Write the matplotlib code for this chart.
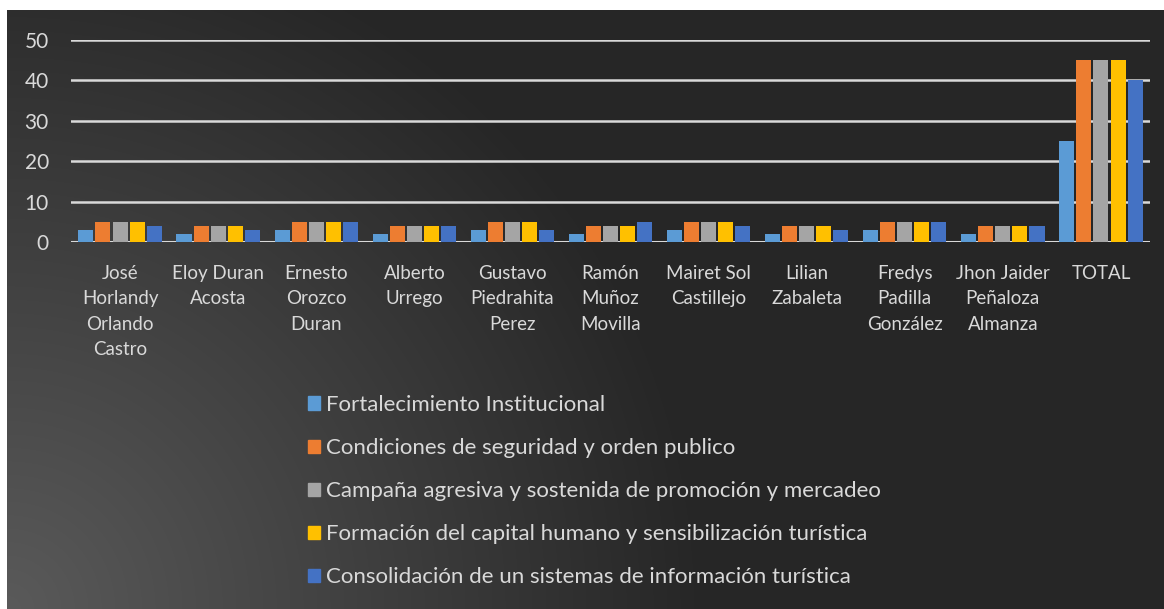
import numpy as np
import matplotlib.pyplot as plt
from matplotlib.patches import Patch

# Datos del gráfico
nombres = ["José\nHorlandy\nOrlando\nCastro", "Eloy Duran\nAcosta", "Ernesto\nOrozco\nDuran",
           "Alberto\nUrrego", "Gustavo\nPiedrahita\nPerez", "Ramón\nMuñoz\nMovilla",
           "Mairet Sol\nCastillejo", "Lilian\nZabaleta", "Fredys\nPadilla\nGonzález",
           "Jhon Jaider\nPeñaloza\nAlmanza", "TOTAL"]

fortalecimiento = [3, 2, 3, 2, 3, 2, 3, 2, 3, 2, 25]
seguridad = [5, 4, 5, 4, 5, 4, 5, 4, 5, 4, 45]
campana = [5, 4, 5, 4, 5, 4, 5, 4, 5, 4, 45]
formacion = [5, 4, 5, 4, 5, 4, 5, 4, 5, 4, 45]
consolidacion = [4, 3, 5, 4, 3, 5, 4, 3, 5, 4, 40]

series = ["Fortalecimiento Institucional",
          "Condiciones de seguridad y orden publico",
          "Campaña agresiva y sostenida de promoción y mercadeo",
          "Formación del capital humano y sensibilización turística",
          "Consolidación de un sistemas de información turística"]
colores = ['#5B9BD5', '#ED7D31', '#A5A5A5', '#FFC000', '#4472C4']

plt.rcParams['font.family'] = ['Lato', 'DejaVu Sans']
texto = '#d9d9d9'

W, H = 1164, 609
fig = plt.figure(figsize=(W / 100, H / 100), dpi=100)

# Fondo con degradado (más claro abajo a la izquierda)
bg = fig.add_axes([7 / W, 0, 1 - 7 / W, 1 - 10 / H])
xs = np.arange(W - 7)
ys = np.arange(H - 10)
X, Y = np.meshgrid(xs, ys)
d = np.sqrt(X ** 2 + (H - 10 - Y) ** 2)
val = (90 - 52 * np.clip(d / 700, 0, 1)) / 255
img = np.dstack([val, val, val])
bg.imshow(img, aspect='auto', interpolation='bilinear')
bg.axis('off')

ax = fig.add_axes([71 / W, 1 - 242 / H, (1150 - 71) / W, (242 - 40) / H])
ax.patch.set_alpha(0)

x = np.arange(len(nombres))
datos = [fortalecimiento, seguridad, campana, formacion, consolidacion]
paso = 0.174
for i, (vals, c) in enumerate(zip(datos, colores)):
    ax.bar(x + (i - 2) * paso, vals, width=0.153, color=c, zorder=3)

ax.set_xlim(-0.5, len(nombres) - 0.5)
ax.set_ylim(0, 50)
ax.set_yticks([0, 10, 20, 30, 40, 50])
ax.yaxis.grid(True, color=texto, linewidth=1.8, zorder=0)
ax.set_axisbelow(True)
for s in ax.spines.values():
    s.set_visible(False)
ax.axhline(0, color=texto, linewidth=2.2, zorder=2)
ax.tick_params(length=0, colors=texto)
ax.tick_params(axis='y', pad=16, labelsize=15)
ax.tick_params(axis='x', pad=16.5)
ax.set_xticks(x)
ax.set_xticklabels(nombres, fontsize=13.5, linespacing=1.6, color=texto)

handles = [Patch(color=c) for c in colores]
fig.legend(handles, series, loc='upper left', bbox_to_anchor=(288 / W, 1 - 375 / H),
           frameon=False, fontsize=16, labelcolor=texto, handlelength=0.55,
           handleheight=0.55, handletextpad=0.25, labelspacing=1.04)

fig.savefig('out.png', dpi=100, facecolor='white')
